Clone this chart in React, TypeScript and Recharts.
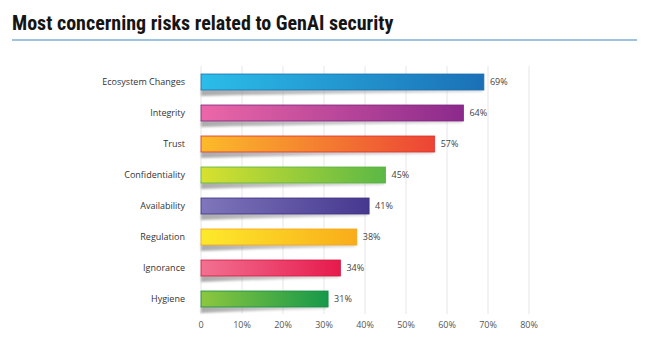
import { Bar, BarChart, CartesianGrid, LabelList, XAxis, YAxis } from "recharts";

const categories = [
  "Ecosystem Changes",
  "Integrity",
  "Trust",
  "Confidentiality",
  "Availability",
  "Regulation",
  "Ignorance",
  "Hygiene",
];
const shares = [69, 64, 57, 45, 41, 38, 34, 31];
const xTicks = [0, 10, 20, 30, 40, 50, 60, 70, 80];

// left -> right gradient stops for each bar
const gradients = [
  ["#2bbde9", "#1b70b6"],
  ["#ec67a8", "#8b2a8c"],
  ["#fcbb2a", "#ec4436"],
  ["#d8e12f", "#5bb846"],
  ["#7f76bb", "#45388f"],
  ["#fdea2b", "#f9ac1a"],
  ["#f27191", "#e61a4c"],
  ["#8dc73f", "#16984a"],
];
const strokes = ["#1b6fb3", "#7f237f", "#dd2f2f", "#56b13f", "#3d3185", "#f5a315", "#d8163f", "#128c42"];

const data = categories.map((name, i) => ({ name, value: shares[i] }));

const BarWithShadow = (props: any) => {
  const { x, y, width, height, index } = props;
  const b = y + height;
  return (
    <g>
      <path
        d={`M${x},${b - 1} L${x + width},${b - 1} L${x + width - 2},${b + 2} Q${x + width * 0.5},${b + 3} ${x},${b + 6} Z`}
        fill="url(#shadowGrad)"
        filter="url(#blur)"
      />
      <rect
        x={x}
        y={y}
        width={width}
        height={height}
        fill={`url(#g${index})`}
        stroke={strokes[index]}
        strokeWidth={0.8}
      />
    </g>
  );
};

export default function App() {
  return (
    <div
      style={{
        position: "absolute",
        left: 0,
        top: 0,
        width: 650,
        height: 354,
        background: "#fff",
      }}
    >
      <div
        style={{
          position: "absolute",
          left: 12,
          top: 11,
          fontFamily: "'Liberation Sans Narrow', 'Roboto Condensed', sans-serif",
          fontWeight: 700,
          fontSize: 20,
          color: "#151515",
          whiteSpace: "nowrap",
        }}
      >
        Most concerning risks related to GenAI security
      </div>
      <div
        style={{
          position: "absolute",
          left: 12,
          top: 39,
          width: 625,
          height: 2,
          background: "#9cc4de",
        }}
      />
      <div style={{ position: "absolute", left: 0, top: 0 }}>
        <BarChart
          width={650}
          height={354}
          data={data}
          layout="vertical"
          margin={{ top: 66, right: 121, bottom: 20, left: 11 }}
          barSize={16}
        >
          <defs>
            {gradients.map((g, i) => (
              <linearGradient key={i} id={`g${i}`} x1="0" y1="0" x2="1" y2="0">
                <stop offset="0%" stopColor={g[0]} />
                <stop offset="100%" stopColor={g[1]} />
              </linearGradient>
            ))}
            <linearGradient id="shadowGrad" x1="0" y1="0" x2="1" y2="0">
              <stop offset="0%" stopColor="#888" stopOpacity={0.7} />
              <stop offset="100%" stopColor="#aaa" stopOpacity={0.4} />
            </linearGradient>
            <filter id="blur" x="-5%" y="-100%" width="110%" height="300%">
              <feGaussianBlur stdDeviation="1.2" />
            </filter>
          </defs>
          <CartesianGrid horizontal={false} stroke="#e6e6e6" />
          <XAxis
            type="number"
            domain={[0, 80]}
            ticks={xTicks}
            tickFormatter={(v: number) => (v === 0 ? "0" : `${v}%`)}
            axisLine={false}
            tickLine={false}
            tick={{ fill: "#555", fontSize: 9, fontFamily: "'Open Sans', sans-serif" }}
            height={20}
          />
          <YAxis
            type="category"
            dataKey="name"
            width={190}
            axisLine={false}
            tickLine={false}
            tickMargin={10}
            tick={{ fill: "#333", fontSize: 9, fontFamily: "'Open Sans', sans-serif" }}
          />
          <Bar dataKey="value" isAnimationActive={false} shape={BarWithShadow}>
            <LabelList
              dataKey="value"
              position="right"
              offset={6}
              formatter={(v: any) => `${v}%`}
              style={{ fill: "#444", fontSize: 9, fontFamily: "'Open Sans', sans-serif" }}
            />
          </Bar>
        </BarChart>
      </div>
    </div>
  );
}
